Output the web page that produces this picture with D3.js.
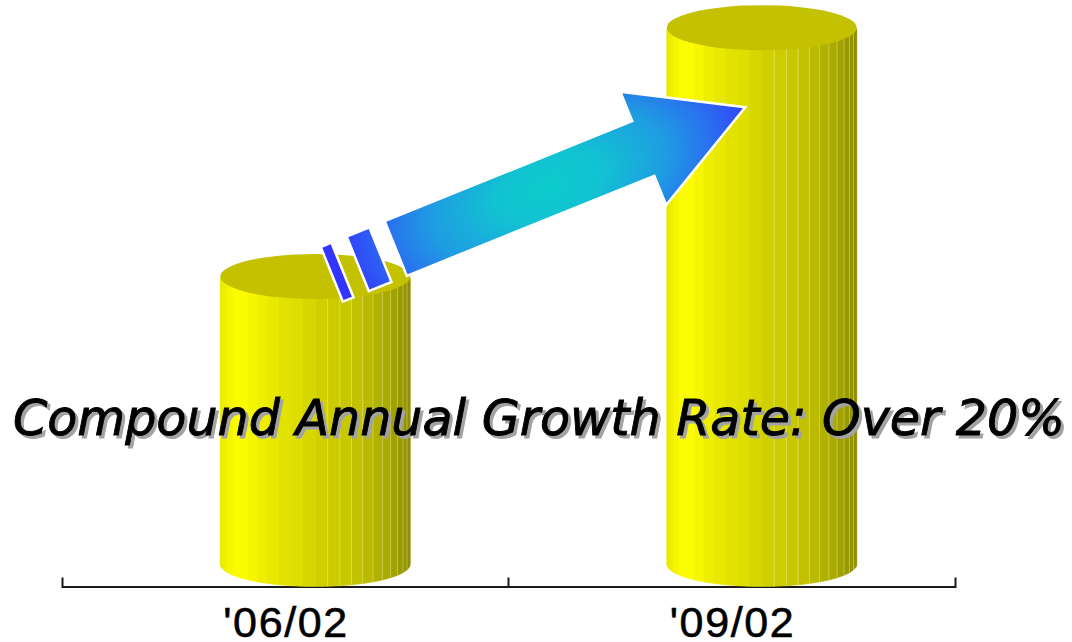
<!DOCTYPE html>
<html>
<head>
<meta charset="utf-8">
<script src="https://cdn.jsdelivr.net/npm/d3@7"></script>
<style>
  html, body { margin: 0; padding: 0; background: #ffffff; }
  svg { display: block; }
</style>
</head>
<body>
<svg id="chart" width="1072" height="642"></svg>
<script>
// Period labels and sales index (first period = 100)
const categories = ["'06/02", "'09/02"];
const values = [100, 187];
const title = "Compound Annual Growth Rate: Over 20%";

const W = 1072, H = 642;
const svg = d3.select("#chart");
const defs = svg.append("defs");

// Scales
const x = d3.scaleBand().domain(categories).range([62, 955]).padding(0);
const y = d3.scaleLinear().domain([0, 100]).range([564, 278]);
const axisY = 586.5;

// Cylinder geometry
const rx = 95, ry = 22.5, barShift = 30;
const cxOf = d => x(d) + x.bandwidth() / 2 + barShift;

// Lighting across the cylinder side, by angle in degrees (0 = left edge)
const shade = d3.scaleLinear()
  .domain([0, 20, 37, 50, 60, 70, 80, 92, 111, 122, 130, 140, 156, 180])
  .range([0.90, 0.94, 1.0, 0.96, 0.92, 0.89, 0.87, 0.82, 0.78, 0.74, 0.70, 0.66, 0.59, 0.54])
  .clamp(true);
const shadeColor = t => d3.rgb(Math.round(255 * t), Math.round(255 * t), 0).toString();

// Axis: baseline with upward ticks at band boundaries, labels at band centres
const axis = svg.append("g").attr("transform", `translate(0,${axisY})`);
axis.call(d3.axisBottom(x).tickSize(0).tickSizeOuter(-9).tickPadding(0));
axis.select(".domain").attr("stroke", "#1a1a1a").attr("stroke-width", 2);
axis.selectAll(".tick text").remove();
axis.append("line")
  .attr("x1", x(categories[1])).attr("x2", x(categories[1]))
  .attr("y1", 0).attr("y2", -9)
  .attr("stroke", "#1a1a1a").attr("stroke-width", 2);

svg.append("g").selectAll("text")
  .data(categories)
  .join("text")
  .attr("x", d => x(d) + x.bandwidth() / 2)
  .attr("y", 637)
  .attr("text-anchor", "middle")
  .attr("font-family", "'Liberation Sans', Arial, sans-serif")
  .attr("font-size", 43)
  .attr("fill", "#000")
  .attr("stroke", "#000")
  .attr("stroke-width", 0.6)
  .attr("textLength", 124)
  .attr("lengthAdjust", "spacing")
  .text(d => d);

// Cylinders
const N = 24;
const bars = svg.append("g");
categories.forEach((c, i) => {
  const cx = cxOf(c), yt = y(values[i]), yb = y(0);
  const g = bars.append("g");
  const strips = d3.range(N).map(k => ({ a0: Math.PI * k / N, a1: Math.PI * (k + 1) / N }));
  g.selectAll("path.strip")
    .data(strips)
    .join("path")
    .attr("class", "strip")
    .attr("d", s => {
      const steps = 4;
      const pts = [];
      pts.push([cx - rx * Math.cos(s.a0), yt]);
      pts.push([cx - rx * Math.cos(s.a1), yt]);
      for (let j = steps; j >= 0; j--) {
        const a = s.a0 + (s.a1 - s.a0) * j / steps;
        pts.push([cx - rx * Math.cos(a), yb + ry * Math.sin(a)]);
      }
      return "M" + pts.map(p => p.join(",")).join("L") + "Z";
    })
    .attr("fill", s => shadeColor(shade((s.a0 + s.a1) / 2 * 180 / Math.PI)))
    .attr("stroke", s => shadeColor(shade((s.a0 + s.a1) / 2 * 180 / Math.PI)))
    .attr("stroke-width", 0.6);
  // faint highlights along some strip seams
  g.selectAll("line.seam")
    .data(strips.filter(s => s.a1 * 180 / Math.PI > 95 && s.a1 * 180 / Math.PI < 168))
    .join("line")
    .attr("class", "seam")
    .attr("x1", s => cx - rx * Math.cos(s.a1)).attr("x2", s => cx - rx * Math.cos(s.a1))
    .attr("y1", yt).attr("y2", s => yb + ry * Math.sin(s.a1))
    .attr("stroke", "rgba(255,255,200,0.45)")
    .attr("stroke-width", 0.8);
  g.append("ellipse")
    .attr("cx", cx).attr("cy", yt - 1.5)
    .attr("rx", rx).attr("ry", ry)
    .attr("fill", "#c4c100");
});

// Growth arrow from the first cylinder top towards the second
const S = [cxOf(categories[0]) + 80.5, y(values[0]) - 29.5];
const T = [cxOf(categories[1]) - 16.5, y(values[1]) + 78];
const L = Math.hypot(T[0] - S[0], T[1] - S[1]);
const ang = Math.atan2(T[1] - S[1], T[0] - S[0]) * 180 / Math.PI;
const headLen = 110, shaftHalf = 29.5, headHalf = 61;

const grad = defs.append("radialGradient")
  .attr("id", "arrowFill")
  .attr("gradientUnits", "userSpaceOnUse")
  .attr("cx", 165).attr("cy", 0).attr("r", 225)
  .attr("fx", 165).attr("fy", 0)
  .attr("gradientTransform", "translate(165,0) scale(1,0.55) translate(-165,0)");
grad.append("stop").attr("offset", 0).attr("stop-color", "#0ccccc");
grad.append("stop").attr("offset", 0.25).attr("stop-color", "#12c2d2");
grad.append("stop").attr("offset", 0.55).attr("stop-color", "#1f9ce2");
grad.append("stop").attr("offset", 0.8).attr("stop-color", "#2c66f2");
grad.append("stop").attr("offset", 1).attr("stop-color", "#3434ff");

const arrow = svg.append("g")
  .attr("transform", `translate(${S[0]},${S[1]}) rotate(${ang})`);
const pieces = [
  [[-69, -shaftHalf], [-57.5, -shaftHalf], [-57.5, shaftHalf], [-69, shaftHalf]],
  [[-41, -shaftHalf], [-16.5, -shaftHalf], [-16.5, shaftHalf], [-41, shaftHalf]],
  [[0, -shaftHalf], [L - headLen, -shaftHalf], [L - headLen, -headHalf], [L, 0],
   [L - headLen, headHalf], [L - headLen, shaftHalf], [0, shaftHalf]]
];
arrow.selectAll("path")
  .data(pieces)
  .join("path")
  .attr("d", p => d3.line()(p) + "Z")
  .attr("fill", "url(#arrowFill)")
  .attr("stroke", "#ffffff")
  .attr("stroke-width", 2.5)
  .attr("stroke-linejoin", "miter");

// Headline with drop shadow
const titleG = svg.append("g")
  .attr("font-family", "'DejaVu Sans', Verdana, sans-serif")
  .attr("font-style", "italic")
  .attr("font-size", 50);
[[3, 3, "#a3a3a3"], [0, 0, "#000000"]].forEach(([dx, dy, col]) => {
  titleG.append("text")
    .attr("x", 13 + dx).attr("y", 435 + dy)
    .attr("fill", col)
    .attr("stroke", col)
    .attr("stroke-width", 0.9)
    .attr("textLength", 1052)
    .attr("lengthAdjust", "spacingAndGlyphs")
    .text(title);
});
</script>
</body>
</html>
